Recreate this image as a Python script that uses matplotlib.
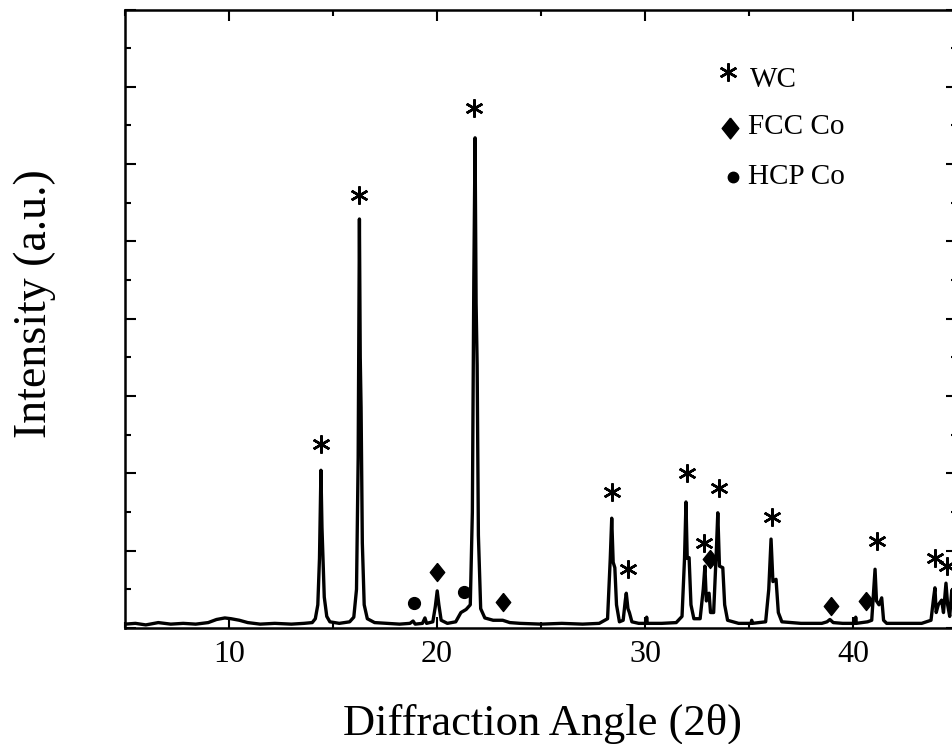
import matplotlib
matplotlib.use("Agg")
import matplotlib.pyplot as plt
from matplotlib.ticker import MultipleLocator, NullFormatter

plt.rcParams["font.family"] = ["Liberation Serif", "DejaVu Serif"]

# XRD pattern (2theta, intensity in a.u.)
two_theta = [
    5.0, 5.5, 6.0, 6.6, 7.2, 7.8, 8.4, 9.0, 9.4, 9.8, 10.1, 10.5, 10.9, 11.5,
    12.2, 13.0, 13.6, 14.0, 14.15, 14.27, 14.35, 14.42, 14.47, 14.52, 14.58, 14.7,
    14.85, 15.3, 15.8, 16.0, 16.13, 16.21, 16.27, 16.31, 16.35, 16.41, 16.5,
    16.65, 17.0, 17.6, 18.2, 18.7, 18.85, 18.95, 19.3, 19.42, 19.5, 19.8, 19.92,
    20.01, 20.09, 20.2, 20.5, 20.9, 21.15, 21.4, 21.6, 21.7, 21.77, 21.83,
    21.88, 21.93, 21.99, 22.1, 22.3, 22.7, 23.16, 23.5, 24.0, 25.0, 26.0, 27.0,
    27.8, 28.2, 28.33, 28.40, 28.47, 28.55, 28.63, 28.77, 28.95, 29.05, 29.1,
    29.18, 29.25, 29.37, 29.7, 30.05, 30.08, 30.11, 30.8, 31.5, 31.78, 31.9,
    31.97, 32.03, 32.12, 32.21, 32.35, 32.65, 32.8, 32.88, 32.95, 33.08, 33.15,
    33.3, 33.43, 33.50, 33.58, 33.74, 33.83, 33.97, 34.5, 35.1, 35.13, 35.16,
    35.8, 35.95, 36.06, 36.15, 36.30, 36.41, 36.58, 37.5, 38.5, 38.75, 38.89,
    39.05, 39.5, 40.1, 40.13, 40.16, 40.7, 40.9, 41.0, 41.06, 41.13, 41.25,
    41.38, 41.47, 41.62, 43.3, 43.75, 43.88, 43.94, 44.0, 44.1, 44.26, 44.35,
    44.47, 44.55, 44.65, 44.75, 44.85, 45.0,
]
intensity = [
    0.05, 0.06, 0.04, 0.07, 0.05, 0.06, 0.05, 0.07, 0.11, 0.13, 0.12, 0.10, 0.07, 0.05,
    0.06, 0.05, 0.06, 0.07, 0.12, 0.3, 0.9, 2.04, 1.3, 0.88, 0.4, 0.15,
    0.08, 0.06, 0.08, 0.14, 0.5, 2.2, 5.29, 3.5, 2.85, 1.1, 0.3,
    0.12, 0.07, 0.06, 0.05, 0.06, 0.09, 0.05, 0.06, 0.13, 0.06, 0.08, 0.28,
    0.48, 0.3, 0.1, 0.06, 0.08, 0.2, 0.24, 0.3, 1.5, 4.5, 6.34,
    4.2, 3.4, 1.2, 0.25, 0.13, 0.10, 0.10, 0.07, 0.06, 0.05, 0.06, 0.05,
    0.06, 0.12, 0.9, 1.42, 0.85, 0.78, 0.3, 0.08, 0.1, 0.35, 0.45,
    0.25, 0.2, 0.08, 0.06, 0.06, 0.14, 0.06, 0.06, 0.07, 0.15, 0.9,
    1.63, 0.9, 0.91, 0.3, 0.12, 0.12, 0.5, 0.80, 0.35, 0.45, 0.2,
    0.2, 1.0, 1.49, 0.8, 0.78, 0.3, 0.1, 0.06, 0.06, 0.1, 0.06,
    0.08, 0.5, 1.15, 0.6, 0.63, 0.2, 0.08, 0.06, 0.06, 0.08, 0.11,
    0.07, 0.06, 0.06, 0.14, 0.06, 0.08, 0.1, 0.5, 0.76, 0.35, 0.3,
    0.39, 0.1, 0.06, 0.06, 0.1, 0.4, 0.52, 0.2, 0.3, 0.36, 0.2,
    0.58, 0.3, 0.15, 0.49, 0.2, 0.1,
]

# phase markers placed above the peaks
wc_x = [14.41, 16.25, 21.78, 28.40, 29.20, 32.03, 32.84, 33.56, 36.09, 41.14, 43.94, 44.50]
wc_y = [2.38, 5.60, 6.73, 1.76, 0.76, 2.00, 1.10, 1.81, 1.43, 1.13, 0.91, 0.80]
fcc_x = [20.01, 23.16, 33.13, 38.94, 40.61]
fcc_y = [0.72, 0.34, 0.89, 0.28, 0.35]
hcp_x = [18.91, 21.30]
hcp_y = [0.32, 0.47]

diamond = [(0, 1), (0.8, 0), (0, -1), (-0.8, 0), (0, 1)]

fig = plt.figure(figsize=(9.53, 7.44), dpi=100)
ax = fig.add_axes([125 / 953, 116 / 744, 832 / 953, 618.5 / 744])

ax.plot(two_theta, intensity, color="black", lw=2.4)

ax.plot(wc_x, wc_y, ls="none", marker=(6, 2, 0), ms=13, mew=1.8, color="black")
ax.plot(fcc_x, fcc_y, ls="none", marker=diamond, ms=13, color="black")
ax.plot(hcp_x, hcp_y, ls="none", marker="o", ms=8.5, color="black")

# hand-made legend
lx = [(728 - 125) / 832, (730 - 125) / 832, (733 - 125) / 832]
ly = [(628 - 72) / 618.5, (628 - 128) / 618.5, (628 - 177) / 618.5]
ax.plot(lx[0], ly[0], transform=ax.transAxes, marker=(6, 2, 0), ms=13, mew=1.8, color="black")
ax.plot(lx[1], ly[1], transform=ax.transAxes, marker=diamond, ms=15, color="black")
ax.plot(lx[2], ly[2], transform=ax.transAxes, marker="o", ms=7.5, color="black")
ax.text((750 - 125) / 832, (628 - 80) / 618.5, "WC", transform=ax.transAxes,
        fontsize=21, va="center")
ax.text((748 - 125) / 832, (628 - 127) / 618.5, "FCC Co", transform=ax.transAxes,
        fontsize=21, va="center")
ax.text((748 - 125) / 832, (628 - 177) / 618.5, "HCP Co", transform=ax.transAxes,
        fontsize=21, va="center")

ax.set_xlim(5, 45)
ax.set_ylim(0, 8)
ax.xaxis.set_major_locator(MultipleLocator(10))
ax.xaxis.set_minor_locator(MultipleLocator(5))
ax.yaxis.set_major_locator(MultipleLocator(1))
ax.yaxis.set_minor_locator(MultipleLocator(0.5))
ax.yaxis.set_major_formatter(NullFormatter())
ax.tick_params(which="both", direction="in", top=True, right=True, width=1.5)
ax.tick_params(which="major", length=8, labelsize=23, pad=9)
ax.tick_params(which="minor", length=4.5)
for sp in ax.spines.values():
    sp.set_linewidth(1.8)

fig.text(543 / 953, 1 - 735 / 744, "Diffraction Angle (2\u03b8)", fontsize=32,
         ha="center", va="baseline")
fig.text(35 / 953, 1 - 304 / 744, "Intensity (a.u.)", fontsize=33,
         rotation=90, ha="center", va="center")

fig.savefig("out.png", dpi=100)
